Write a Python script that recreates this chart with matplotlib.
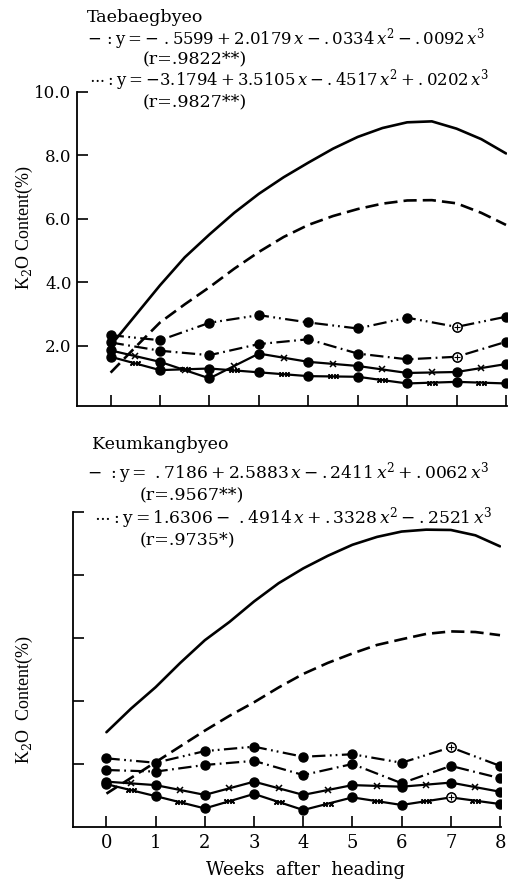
import numpy as np
import matplotlib
matplotlib.use("Agg")
import matplotlib.pyplot as plt

plt.rcParams['font.family'] = ['DejaVu Serif']
plt.rcParams['mathtext.fontset'] = 'custom'
plt.rcParams['mathtext.rm'] = 'DejaVu Serif'
plt.rcParams['mathtext.it'] = 'DejaVu Serif:italic'

# weeks after heading
weeks = [0, 1, 2, 3, 4, 5, 6, 7, 8]
weeks_fine = [0, 0.5, 1, 1.5, 2, 2.5, 3, 3.5, 4, 4.5, 5, 5.5, 6, 6.5, 7, 7.5, 8]

# Taebaegbyeo - regression curves
tae_solid = [2.0, 2.95, 3.9, 4.78, 5.5, 6.18, 6.78, 7.3, 7.76, 8.2, 8.57, 8.85, 9.03, 9.06, 8.83, 8.5, 8.05]
tae_dashed = [1.15, 1.95, 2.73, 3.3, 3.84, 4.42, 4.95, 5.42, 5.8, 6.08, 6.3, 6.47, 6.57, 6.58, 6.48, 6.18, 5.8]
# Taebaegbyeo - measured series
tae_a = [2.33, 2.17, 2.72, 2.96, 2.73, 2.54, 2.88, 2.59, 2.91]
tae_b = [2.1, 1.84, 1.70, 2.05, 2.20, 1.75, 1.57, 1.65, 2.12]
tae_c = [1.85, 1.49, 0.97, 1.75, 1.49, 1.36, 1.14, 1.17, 1.42]
tae_d = [1.65, 1.23, 1.28, 1.16, 1.04, 1.02, 0.81, 0.86, 0.81]

# Keumkangbyeo
keum_solid = [3.0, 3.75, 4.43, 5.2, 5.92, 6.5, 7.15, 7.73, 8.2, 8.6, 8.95, 9.2, 9.37, 9.43, 9.42, 9.25, 8.9]
keum_dashed = [1.05, 1.55, 2.05, 2.55, 3.05, 3.52, 3.95, 4.42, 4.85, 5.2, 5.5, 5.77, 5.95, 6.12, 6.2, 6.18, 6.08]
keum_a = [2.17, 2.03, 2.40, 2.54, 2.22, 2.30, 2.03, 2.52, 1.93]
keum_b = [1.80, 1.75, 1.96, 2.09, 1.64, 1.99, 1.38, 1.93, 1.54]
keum_c = [1.43, 1.32, 1.01, 1.43, 1.01, 1.32, 1.27, 1.40, 1.11]
keum_d = [1.35, 0.97, 0.58, 1.04, 0.53, 0.93, 0.69, 0.93, 0.72]

top_yticks = [2, 4, 6, 8, 10]
top_yticklabels = ['2.0', '4.0', '6.0', '8.0', '10.0']

W, H = 509, 890
fig = plt.figure(figsize=(W / 100, H / 100), dpi=100)


def px(x, y):
    return x / W, 1 - y / H


def draw_panel(ax, solid, dashed, a, b, c, d, open_a, open_b, open_d):
    ax.plot(weeks_fine, solid, color='black', lw=1.9, solid_capstyle='round')
    ax.plot(weeks_fine, dashed, color='black', lw=1.9, dashes=(5, 2.3))
    ax.plot(weeks, a, color='black', lw=1.6, dashes=(6, 2, 0.8, 1.8, 0.8, 2),
            marker='o', ms=6.5)
    ax.plot(weeks, b, color='black', lw=1.6, dashes=(6, 2, 0.8, 2),
            marker='o', ms=6.5)
    ax.plot(weeks, c, color='black', lw=1.6, marker='o', ms=6.5)
    ax.plot(weeks, d, color='black', lw=1.6, marker='o', ms=6.5)
    # x marks along the solid measured lines
    xm = (np.array(weeks[:-1]) + np.array(weeks[1:])) / 2
    ax.plot(xm, (np.array(c[:-1]) + np.array(c[1:])) / 2, ls='none',
            marker='x', ms=4, mew=1.1, color='black')
    ax.plot(xm, (np.array(d[:-1]) + np.array(d[1:])) / 2, ls='none',
            marker='$\\times\\!\\times$', ms=7, color='black')
    for series, idx in ((a, open_a), (b, open_b), (d, open_d)):
        for i in idx:
            ax.plot(weeks[i], series[i], marker='o', ms=6.5, mfc='white',
                    mec='black', mew=1.0)
            ax.plot(weeks[i], series[i], marker='+', ms=4, mew=0.8, color='black')

    for s in ('top', 'right'):
        ax.spines[s].set_visible(False)
    ax.spines['left'].set_linewidth(1.3)
    ax.spines['bottom'].set_linewidth(1.3)
    ax.set_xticks(weeks)
    ax.set_yticks(top_yticks)
    ax.tick_params(direction='in', length=8, width=1.2, labelsize=13, pad=5)


# top panel
ax1 = fig.add_axes([77 / W, 1 - 406 / H, 430 / W, (406 - 91.5) / H])
draw_panel(ax1, tae_solid, tae_dashed, tae_a, tae_b, tae_c, tae_d, [7], [7], [])
ax1.set_xlim(-0.68, 8.02)
ax1.set_ylim(0.1, 10)
ax1.set_yticklabels(top_yticklabels)
ax1.tick_params(axis='y', labelsize=12, pad=4)
ax1.set_xticklabels([])

# bottom panel
ax2 = fig.add_axes([73 / W, 1 - 826.7 / H, 428 / W, (826.7 - 511.7) / H])
draw_panel(ax2, keum_solid, keum_dashed, keum_a, keum_b, keum_c, keum_d, [7], [], [7])
ax2.set_xlim(-0.68, 8.02)
ax2.set_ylim(0, 10)
ax2.set_yticklabels([])
ax2.set_xticklabels([str(w) for w in weeks])

fs = 12.6
fs_eq = 11.9
# header of top panel
fig.text(*px(87, 17), 'Taebaegbyeo', fontsize=fs, va='center')
fig.text(*px(87, 39), r'$-\,:\mathrm{y}=-\ .5599+2.0179\,x-.0334\,x^2-.0092\,x^3$',
         fontsize=fs_eq, va='center')
fig.text(*px(143, 59), '(r=.9822**)', fontsize=fs, va='center')
fig.text(*px(89, 80), r'$\cdots:\mathrm{y}=-3.1794+3.5105\,x-.4517\,x^2+.0202\,x^3$',
         fontsize=fs_eq, va='center')
fig.text(*px(143, 102), '(r=.9827**)', fontsize=fs, va='center')

# header of bottom panel
fig.text(*px(92, 444), 'Keumkangbyeo', fontsize=fs, va='center')
fig.text(*px(87, 473), r'$-\ :\mathrm{y}=\ .7186+2.5883\,x-.2411\,x^2+.0062\,x^3$',
         fontsize=fs_eq + 0.4, va='center')
fig.text(*px(140, 495), '(r=.9567**)', fontsize=fs, va='center')
fig.text(*px(94, 518), r'$\cdots:\mathrm{y}=1.6306-\ .4914\,x+.3328\,x^2-.2521\,x^3$',
         fontsize=fs_eq + 0.4, va='center')
fig.text(*px(140, 540), '(r=.9735*)', fontsize=fs, va='center')

# axis labels
fig.text(*px(24, 228), r'K$_2$O Content(%)', rotation=90, fontsize=13,
         ha='center', va='center', family='Liberation Serif')
fig.text(*px(24, 700), r'K$_2$O  Content(%)', rotation=90, fontsize=13,
         ha='center', va='center', family='Liberation Serif')
fig.text(*px(305, 870), 'Weeks  after  heading', fontsize=13, ha='center', va='center')

fig.savefig('out.png', dpi=100)
